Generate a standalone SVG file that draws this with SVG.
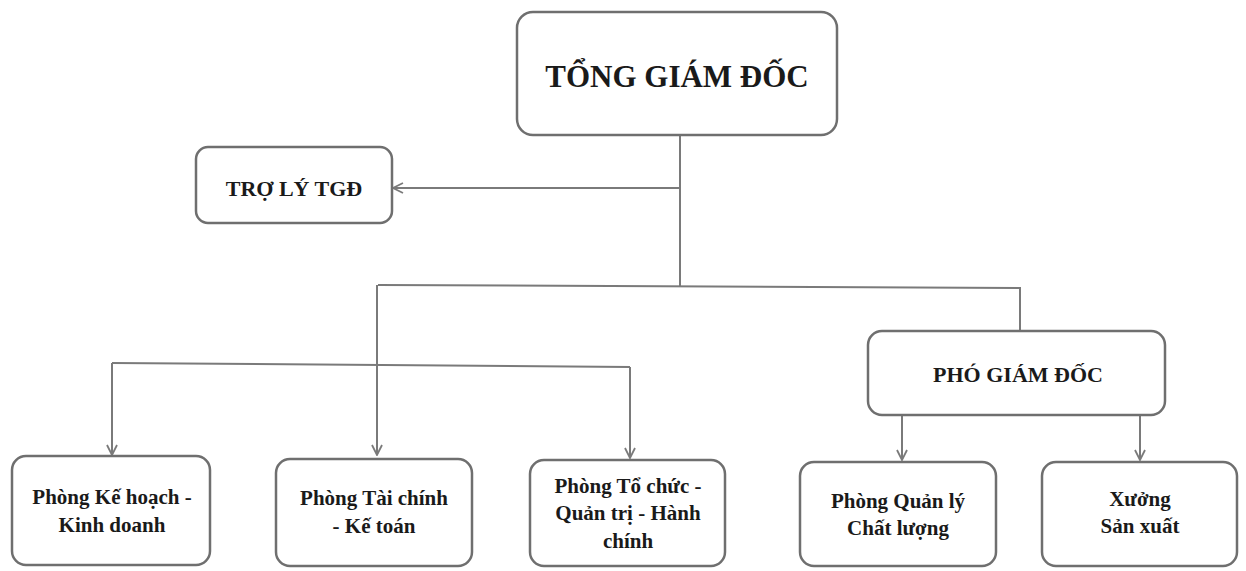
<svg xmlns="http://www.w3.org/2000/svg" width="1246" height="571" viewBox="0 0 1246 571">
  <style>
    .box { fill: #ffffff; stroke: #6f6f6f; stroke-width: 2.5; }
    .lbl { font-family: "Liberation Serif", "Times New Roman", serif; font-weight: bold; fill: #1a1a1a; text-anchor: middle; }
    .big { font-size: 31px; }
    .mid { font-size: 22px; }
    .small { font-size: 21px; }
    .wire { fill: none; stroke: #7a7a7a; stroke-width: 2; }
  </style>
  <defs>
    <marker id="arrow" viewBox="0 0 12 12" refX="11" refY="6" markerWidth="12" markerHeight="12" markerUnits="userSpaceOnUse" orient="auto">
      <path d="M1,1 L11,6 L1,11" fill="none" stroke="#7a7a7a" stroke-width="1.8"/>
    </marker>
  </defs>
  <rect width="1246" height="571" fill="#ffffff"/>

  <g id="connectors">
    <!-- trunk from the general director -->
    <path class="wire" d="M680,135 V287"/>
    <path class="wire" d="M680,188 H393" marker-end="url(#arrow)"/>
    <!-- main bus -->
    <path class="wire" d="M378,285 L1020,288 V331"/>
    <path class="wire" d="M377,285 V455" marker-end="url(#arrow)"/>
    <!-- second bus -->
    <path class="wire" d="M112,363 L630,367"/>
    <path class="wire" d="M112,363 V455" marker-end="url(#arrow)"/>
    <path class="wire" d="M630,367 V458" marker-end="url(#arrow)"/>
    <!-- deputy director branches -->
    <path class="wire" d="M902,415 V460" marker-end="url(#arrow)"/>
    <path class="wire" d="M1140,415 V460" marker-end="url(#arrow)"/>
  </g>

  <g id="tong-giam-doc">
    <rect class="box" x="517" y="12" width="320" height="123" rx="16"/>
    <text class="lbl big" x="677" y="87">TỔNG GIÁM ĐỐC</text>
  </g>

  <g id="tro-ly">
    <rect class="box" x="196" y="147" width="196" height="76" rx="12"/>
    <text class="lbl mid" x="294" y="196">TRỢ LÝ TGĐ</text>
  </g>

  <g id="pho-giam-doc">
    <rect class="box" x="868" y="331" width="297" height="84" rx="14"/>
    <text class="lbl mid" x="1018" y="382">PHÓ GIÁM ĐỐC</text>
  </g>

  <g id="ke-hoach">
    <rect class="box" x="12" y="456" width="198" height="109" rx="14"/>
    <text class="lbl small" x="112" y="504">Phòng Kế hoạch -</text>
    <text class="lbl small" x="112" y="532">Kinh doanh</text>
  </g>

  <g id="tai-chinh">
    <rect class="box" x="276" y="459" width="196" height="107" rx="14"/>
    <text class="lbl small" x="374" y="505">Phòng Tài chính</text>
    <text class="lbl small" x="374" y="533">- Kế toán</text>
  </g>

  <g id="to-chuc">
    <rect class="box" x="530" y="460" width="195" height="106" rx="14"/>
    <text class="lbl small" x="628" y="493">Phòng Tổ chức -</text>
    <text class="lbl small" x="628" y="520">Quản trị - Hành</text>
    <text class="lbl small" x="628" y="548">chính</text>
  </g>

  <g id="quan-ly">
    <rect class="box" x="800" y="462" width="196" height="104" rx="14"/>
    <text class="lbl small" x="898" y="508">Phòng Quản lý</text>
    <text class="lbl small" x="898" y="535">Chất lượng</text>
  </g>

  <g id="xuong">
    <rect class="box" x="1042" y="462" width="195" height="104" rx="14"/>
    <text class="lbl small" x="1140" y="506">Xưởng</text>
    <text class="lbl small" x="1140" y="533">Sản xuất</text>
  </g>
</svg>
